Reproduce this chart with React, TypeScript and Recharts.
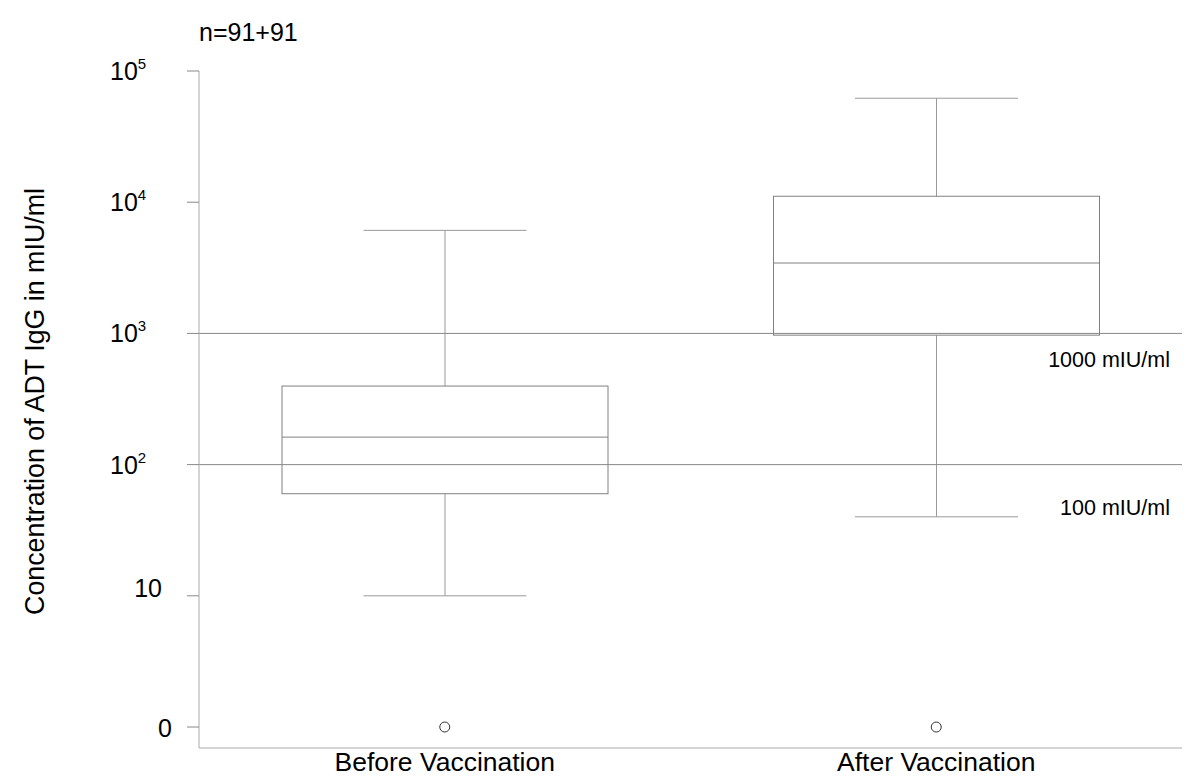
import React from "react";
import {
  ComposedChart,
  Bar,
  Scatter,
  XAxis,
  YAxis,
  ReferenceLine,
  Label,
} from "recharts";

const categories = ["Before Vaccination", "After Vaccination"];
const whiskerLow = [10, 40];
const q1 = [60, 970];
const median = [162, 3440];
const q3 = [397, 11100];
const whiskerHigh = [6100, 62000];
const outliers = [1, 1]; // shown at the "0" row
const yTicks = [1, 10, 100, 1000, 10000, 100000];
const thresholds = [
  { value: 1000, label: "1000 mIU/ml" },
  { value: 100, label: "100 mIU/ml" },
];

const data = categories.map((name, i) => ({
  name,
  whiskerLow: whiskerLow[i],
  q1: q1[i],
  median: median[i],
  q3: q3[i],
  whiskerHigh: whiskerHigh[i],
  range: [whiskerLow[i], whiskerHigh[i]],
  outlier: outliers[i],
}));

const FONT = "'Liberation Sans', Arial, Helvetica, sans-serif";

// bar spans whisker range; other stats placed on the same log scale
const BoxShape = (props: any) => {
  const { x, y, width, height, payload } = props;
  const top = Math.log10(payload.whiskerHigh);
  const bot = Math.log10(payload.whiskerLow);
  const py = (v: number) => y + (height * (top - Math.log10(v))) / (top - bot);
  const cx = x + width / 2;
  const cap = width * 0.25;
  const yq1 = py(payload.q1);
  const yq3 = py(payload.q3);
  const ymed = py(payload.median);
  const whisker = "#9a9a9a";
  const box = "#808080";
  return (
    <g>
      <line x1={cx - cap} x2={cx + cap} y1={y} y2={y} stroke={whisker} />
      <line x1={cx} x2={cx} y1={y} y2={yq3} stroke={whisker} />
      <line x1={cx} x2={cx} y1={yq1} y2={y + height} stroke={whisker} />
      <line x1={cx - cap} x2={cx + cap} y1={y + height} y2={y + height} stroke={whisker} />
      <rect x={x} y={yq3} width={width} height={yq1 - yq3} fill="none" stroke={box} />
      <line x1={x} x2={x + width} y1={ymed} y2={ymed} stroke={box} />
    </g>
  );
};

const OutlierShape = (props: any) => (
  <circle cx={props.cx} cy={props.cy} r={5} fill="#fff" stroke="#333" strokeWidth={1} />
);

const YTick = (props: any) => {
  const { x, y, payload } = props;
  const exp = Math.round(Math.log10(payload.value));
  if (exp === 0)
    return (
      <text x={x - 15} y={y + 10} textAnchor="end" fontSize={25} fill="#000" fontFamily={FONT}>
        0
      </text>
    );
  if (exp === 1)
    return (
      <text x={x - 25} y={y + 1} textAnchor="end" fontSize={25} fill="#000" fontFamily={FONT}>
        10
      </text>
    );
  return (
    <text x={x - 77} y={y + 9} textAnchor="start" fontSize={25} fill="#000" fontFamily={FONT}>
      10
      <tspan fontSize={15} dy={-11}>
        {exp}
      </tspan>
    </text>
  );
};

const XTick = (props: any) => {
  const { x, y, payload } = props;
  return (
    <text x={x} y={y + 21} textAnchor="middle" fontSize={26.5} fill="#000" fontFamily={FONT}>
      {payload.value}
    </text>
  );
};

const ThresholdLabel = (props: any) => {
  const { viewBox, value, dy } = props;
  return (
    <text
      x={viewBox.x + viewBox.width - 12}
      y={viewBox.y + dy}
      textAnchor="end"
      fontSize={21.5}
      fill="#000"
      fontFamily={FONT}
    >
      {value}
    </text>
  );
};

const YTitle = (props: any) => {
  const { viewBox } = props;
  const cx = viewBox.x + 35;
  const cy = viewBox.y + viewBox.height / 2 - 8;
  return (
    <text
      x={cx}
      y={cy}
      transform={`rotate(-90, ${cx}, ${cy})`}
      textAnchor="middle"
      dominantBaseline="central"
      fontSize={26.8}
      fill="#000"
      fontFamily={FONT}
    >
      Concentration of ADT IgG in mIU/ml
    </text>
  );
};

export default function App() {
  return (
    <div
      style={{
        position: "absolute",
        left: 0,
        top: 0,
        width: 1200,
        height: 784,
        background: "#fff",
        fontFamily: FONT,
      }}
    >
      <div
        style={{
          position: "absolute",
          left: 199,
          top: 18,
          fontSize: 25,
          lineHeight: "28px",
          color: "#000",
        }}
      >
        n=91+91
      </div>
      <ComposedChart
        width={1200}
        height={784}
        data={data}
        margin={{ top: 71, right: 18, bottom: 0, left: 0 }}
      >
        <XAxis
          dataKey="name"
          type="category"
          height={36}
          axisLine={{ stroke: "#aaa" }}
          tickLine={false}
          tickSize={0}
          tick={<XTick />}
          interval={0}
        />
        <YAxis
          scale="log"
          type="number"
          domain={[0.692, 100000]}
          allowDataOverflow
          ticks={yTicks}
          width={199}
          tickSize={12}
          tickMargin={0}
          axisLine={{ stroke: "#aaa" }}
          tickLine={{ stroke: "#888" }}
          tick={<YTick />}
        >
          <Label content={<YTitle />} />
        </YAxis>
        {thresholds.map((t, i) => (
          <ReferenceLine
            key={t.value}
            y={t.value}
            stroke="#888"
            ifOverflow="extendDomain"
            label={<ThresholdLabel value={t.label} dy={i === 0 ? 34 : 50} />}
          />
        ))}
        <Bar
          dataKey="range"
          barSize={326}
          shape={<BoxShape />}
          isAnimationActive={false}
        />
        <Scatter dataKey="outlier" shape={<OutlierShape />} isAnimationActive={false} />
      </ComposedChart>
    </div>
  );
}
